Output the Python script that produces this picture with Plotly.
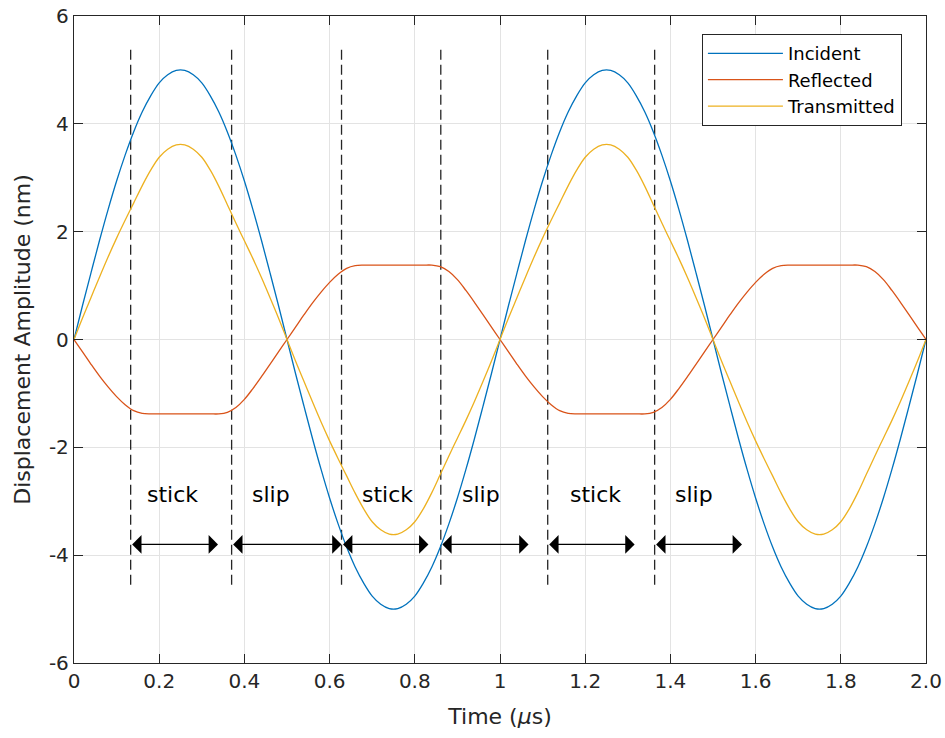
import plotly.graph_objects as go

# time axis (microseconds), sampled every 0.02
time_us = [round(i * 0.02, 2) for i in range(101)]

incident = [
    0, 0.63, 1.24, 1.84, 2.41, 2.94, 3.42, 3.85, 4.22, 4.52, 4.76, 4.91, 4.99,
    4.99, 4.91, 4.76, 4.52, 4.22, 3.85, 3.42, 2.94, 2.41, 1.84, 1.24, 0.63, 0,
    -0.63, -1.24, -1.84, -2.41, -2.94, -3.42, -3.85, -4.22, -4.52, -4.76, -4.91, -4.99,
    -4.99, -4.91, -4.76, -4.52, -4.22, -3.85, -3.42, -2.94, -2.41, -1.84, -1.24, -0.63, 0,
    0.63, 1.24, 1.84, 2.41, 2.94, 3.42, 3.85, 4.22, 4.52, 4.76, 4.91, 4.99,
    4.99, 4.91, 4.76, 4.52, 4.22, 3.85, 3.42, 2.94, 2.41, 1.84, 1.24, 0.63, 0,
    -0.63, -1.24, -1.84, -2.41, -2.94, -3.42, -3.85, -4.22, -4.52, -4.76, -4.91, -4.99,
    -4.99, -4.91, -4.76, -4.52, -4.22, -3.85, -3.42, -2.94, -2.41, -1.84, -1.24, -0.63, 0,
]

reflected = [
    0, -0.23, -0.46, -0.68, -0.88, -1.06, -1.21, -1.32, -1.37, -1.38, -1.38, -1.38, -1.38,
    -1.38, -1.38, -1.38, -1.38, -1.38, -1.35, -1.26, -1.11, -0.91, -0.69, -0.46, -0.23, 0,
    0.23, 0.46, 0.68, 0.88, 1.06, 1.21, 1.32, 1.37, 1.38, 1.38, 1.38, 1.38,
    1.38, 1.38, 1.38, 1.38, 1.38, 1.35, 1.26, 1.11, 0.91, 0.69, 0.46, 0.23, 0,
    -0.23, -0.46, -0.68, -0.88, -1.06, -1.21, -1.32, -1.37, -1.38, -1.38, -1.38, -1.38,
    -1.38, -1.38, -1.38, -1.38, -1.38, -1.35, -1.26, -1.11, -0.91, -0.69, -0.46, -0.23, 0,
    0.23, 0.46, 0.68, 0.88, 1.06, 1.21, 1.32, 1.37, 1.38, 1.38, 1.38, 1.38,
    1.38, 1.38, 1.38, 1.38, 1.38, 1.35, 1.26, 1.11, 0.91, 0.69, 0.46, 0.23, 0,
]

transmitted = [
    0, 0.40, 0.78, 1.16, 1.53, 1.88, 2.21, 2.53, 2.85, 3.14, 3.38, 3.53, 3.61,
    3.61, 3.53, 3.38, 3.14, 2.84, 2.50, 2.16, 1.83, 1.50, 1.15, 0.78, 0.40, 0,
    -0.40, -0.78, -1.16, -1.53, -1.88, -2.21, -2.53, -2.85, -3.14, -3.38, -3.53, -3.61,
    -3.61, -3.53, -3.38, -3.14, -2.84, -2.50, -2.16, -1.83, -1.50, -1.15, -0.78, -0.40, 0,
    0.40, 0.78, 1.16, 1.53, 1.88, 2.21, 2.53, 2.85, 3.14, 3.38, 3.53, 3.61,
    3.61, 3.53, 3.38, 3.14, 2.84, 2.50, 2.16, 1.83, 1.50, 1.15, 0.78, 0.40, 0,
    -0.40, -0.78, -1.16, -1.53, -1.88, -2.21, -2.53, -2.85, -3.14, -3.38, -3.53, -3.61,
    -3.61, -3.53, -3.38, -3.14, -2.84, -2.50, -2.16, -1.83, -1.50, -1.15, -0.78, -0.40, 0,
]

# stick / slip phase boundaries (dashed lines) and span arrows
boundaries = [0.133, 0.370, 0.628, 0.861, 1.112, 1.363]
boundary_y = [-4.55, 5.45]
arrow_spans = [(0.133, 0.338), (0.370, 0.628), (0.628, 0.832),
               (0.861, 1.067), (1.112, 1.316), (1.363, 1.568)]
arrow_y = -3.8
phase_labels = ["stick", "slip", "stick", "slip", "stick", "slip"]
label_x = [0.232, 0.462, 0.736, 0.955, 1.223, 1.455]
label_y = -2.88

x_ticks = [0, 0.2, 0.4, 0.6, 0.8, 1.0, 1.2, 1.4, 1.6, 1.8, 2.0]
x_ticktext = ["0", "0.2", "0.4", "0.6", "0.8", "1", "1.2", "1.4", "1.6", "1.8", "2.0"]
y_ticks = [-6, -4, -2, 0, 2, 4, 6]
y_ticktext = ["-6", "-4", "-2", "0", "2", "4", "6"]

FONT = "DejaVu Sans, sans-serif"
AX = "#262626"

fig = go.Figure()

for b in boundaries:
    fig.add_trace(go.Scatter(x=[b, b], y=boundary_y, mode="lines",
                             line=dict(color="#262626", width=1.3, dash="10px,5px"),
                             showlegend=False, hoverinfo="skip"))

fig.add_trace(go.Scatter(x=time_us, y=incident, mode="lines", name="Incident",
                         line=dict(color="#0072BD", width=1.3, shape="spline", smoothing=1)))
fig.add_trace(go.Scatter(x=time_us, y=reflected, mode="lines", name="Reflected",
                         line=dict(color="#D95319", width=1.3, shape="spline", smoothing=1)))
fig.add_trace(go.Scatter(x=time_us, y=transmitted, mode="lines", name="Transmitted",
                         line=dict(color="#EDB120", width=1.3, shape="spline", smoothing=1)))

for (x0, x1) in arrow_spans:
    fig.add_annotation(x=x1, y=arrow_y, ax=x0, ay=arrow_y, xref="x", yref="y",
                       axref="x", ayref="y", text="", showarrow=True,
                       arrowhead=1, startarrowhead=1, arrowside="end+start",
                       arrowsize=2.4, startarrowsize=2.4, arrowwidth=1.3,
                       arrowcolor="black", standoff=0, startstandoff=0)

for lab, lx in zip(phase_labels, label_x):
    fig.add_annotation(x=lx, y=label_y, text=lab, showarrow=False,
                       font=dict(family=FONT, size=22, color="black"))

axis_common = dict(showgrid=True, gridcolor="#e3e3e3", gridwidth=1,
                   showline=True, linecolor=AX, linewidth=1.3, mirror="ticks",
                   ticks="inside", ticklen=9, tickcolor=AX, tickwidth=1.3,
                   zeroline=False, automargin=False,
                   tickfont=dict(family=FONT, size=20, color=AX))

fig.update_xaxes(range=[0, 2.0], tickvals=x_ticks, ticktext=x_ticktext,
                 title=dict(text="Time (<i>μ</i>s)", font=dict(family=FONT, size=22, color=AX),
                            standoff=16),
                 **axis_common)
fig.update_yaxes(range=[-6, 6], tickvals=y_ticks, ticktext=y_ticktext,
                 title=dict(text="Displacement Amplitude (nm)",
                            font=dict(family=FONT, size=22, color=AX), standoff=12),
                 **axis_common)

fig.update_layout(
    width=945, height=738,
    margin=dict(l=74, r=19, t=16, b=75),
    paper_bgcolor="white", plot_bgcolor="white",
    showlegend=True,
    legend=dict(x=0.737, y=0.972, xanchor="left", yanchor="top",
                bgcolor="white", bordercolor=AX, borderwidth=1,
                font=dict(family=FONT, size=18, color="black"),
                itemwidth=75),
)

fig.write_html("out.html")
